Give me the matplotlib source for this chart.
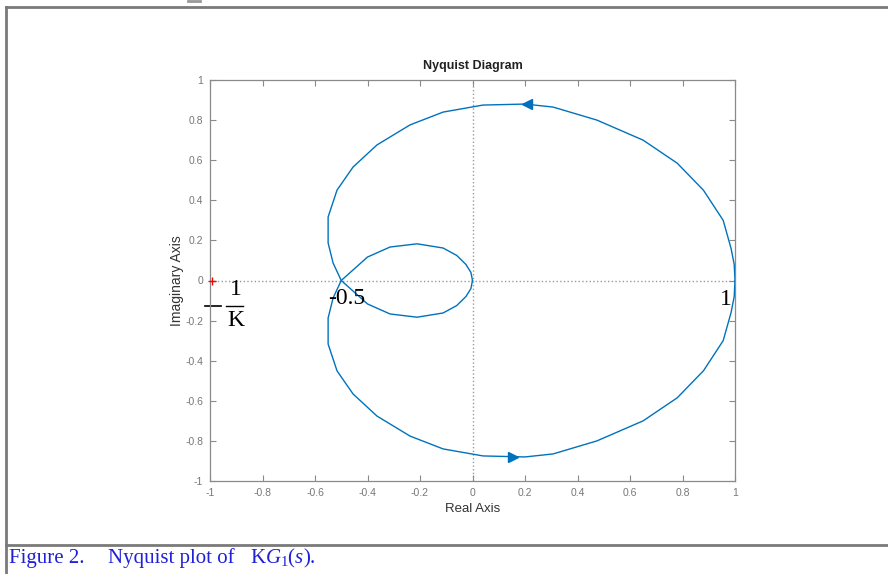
import numpy as np
import matplotlib.pyplot as plt
from matplotlib.lines import Line2D

plt.rcParams['font.family'] = ['Liberation Sans', 'DejaVu Sans']
plt.rcParams['mathtext.fontset'] = 'custom'
plt.rcParams['mathtext.rm'] = 'Liberation Serif'
plt.rcParams['mathtext.it'] = 'Liberation Serif:italic'

# positive-frequency branch, from w = 0 (at 1) to w -> inf (origin)
re_pos = [1.0, 0.997, 0.985, 0.955, 0.88, 0.78, 0.65, 0.474, 0.307, 0.2, 0.04,
          -0.112, -0.238, -0.364, -0.455, -0.516, -0.55, -0.55, -0.531, -0.5,
          -0.40, -0.314, -0.211, -0.112, -0.06, -0.025, -0.006, 0.0]
im_pos = [0.0, 0.08, 0.16, 0.30, 0.45, 0.585, 0.70, 0.80, 0.865, 0.88, 0.875,
          0.84, 0.776, 0.676, 0.566, 0.451, 0.317, 0.187, 0.087, 0.0,
          -0.117, -0.167, -0.183, -0.162, -0.125, -0.08, -0.04, 0.0]

# direction arrows (upper branch heads left, lower branch heads right)
arrow_up = (0.207, 0.879)
arrow_dn = (0.154, -0.880)

xticks = [-1, -0.8, -0.6, -0.4, -0.2, 0, 0.2, 0.4, 0.6, 0.8, 1]
yticks = [-1, -0.8, -0.6, -0.4, -0.2, 0, 0.2, 0.4, 0.6, 0.8, 1]

blue = (0, 0.447, 0.741)
gray = '#8a8a8a'

fig = plt.figure(figsize=(8.88, 5.74), dpi=100)
ax = fig.add_axes([210 / 888, 1 - 481 / 574, 525 / 888, 401 / 574])

re_pos = np.array(re_pos)
im_pos = np.array(im_pos)
ax.axhline(0, color='#9a9a9a', ls=':', lw=1.0, zorder=1)
ax.axvline(0, color='#9a9a9a', ls=':', lw=1.0, zorder=1)
ax.plot(re_pos, im_pos, color=blue, lw=1.0, zorder=3)
ax.plot(re_pos, -im_pos, color=blue, lw=1.0, zorder=3)
ax.plot(*arrow_up, marker='<', color=blue, ms=7, zorder=4)
ax.plot(*arrow_dn, marker='>', color=blue, ms=7, zorder=4)
ax.plot(-0.993, 0, marker='+', color='red', ms=6, mew=1.0, zorder=5, clip_on=False)

ax.set_xlim(-1, 1)
ax.set_ylim(-1, 1)
ax.set_xticks(xticks)
ax.set_yticks(yticks)
ax.set_xticklabels([f'{t:g}' for t in xticks])
ax.set_yticklabels([f'{t:g}' for t in yticks])
ax.tick_params(direction='in', top=True, right=True, length=4, width=0.8,
               color=gray, labelcolor='#777777', labelsize=7.5)
ax.tick_params(axis='x', pad=5)
ax.tick_params(axis='y', pad=5)
for sp in ax.spines.values():
    sp.set_color(gray)
    sp.set_linewidth(0.9)

ax.set_title('Nyquist Diagram', fontsize=9, fontweight='bold', pad=8, color='#222222')
ax.set_xlabel('Real Axis', fontsize=9.5, color='#333333', labelpad=4)
ax.set_ylabel('Imaginary Axis', fontsize=10, color='#333333', labelpad=1)

# hand annotations on the plot
serif = ['Liberation Serif', 'DejaVu Serif']
ax.text(-0.901, -0.045, '1', family=serif, fontsize=17, ha='center', va='center')
ax.text(-0.901, -0.198, 'K', family=serif, fontsize=17, ha='center', va='center')
ax.add_line(Line2D([-0.94, -0.875], [-0.127, -0.127], color='black', lw=1.0, clip_on=False))
ax.add_line(Line2D([-1.02, -0.96], [-0.127, -0.127], color='black', lw=1.2, clip_on=False))
ax.text(-0.478, -0.088, '-0.5', family=serif, fontsize=17, ha='center', va='center')
ax.text(0.966, -0.097, '1', family=serif, fontsize=17, ha='center', va='center')

# document frame and caption
frame = dict(color='#7a7a7a', lw=2.0, transform=fig.transFigure)
fig.add_artist(Line2D([6 / 888, 1], [1 - 7 / 574, 1 - 7 / 574], **frame))
fig.add_artist(Line2D([6 / 888, 6 / 888], [0, 1 - 7 / 574], **frame))
fig.add_artist(Line2D([6 / 888, 1], [1 - 545 / 574, 1 - 545 / 574], **frame))
fig.add_artist(Line2D([188 / 888, 200 / 888], [1 - 1 / 574, 1 - 1 / 574],
                      color='#999999', lw=2.0, transform=fig.transFigure))

cap = dict(family=serif, fontsize=15, color='#2020d8', va='center', transform=fig.transFigure)
fig.text(9 / 888, 1 - 558 / 574, 'Figure 2.', **cap)
fig.text(108 / 888, 1 - 558 / 574, 'Nyquist plot of', **cap)
fig.text(250 / 888, 1 - 558 / 574, r'$\mathrm{K}G_1(s).$', **cap)

fig.savefig('out.png', dpi=100)
